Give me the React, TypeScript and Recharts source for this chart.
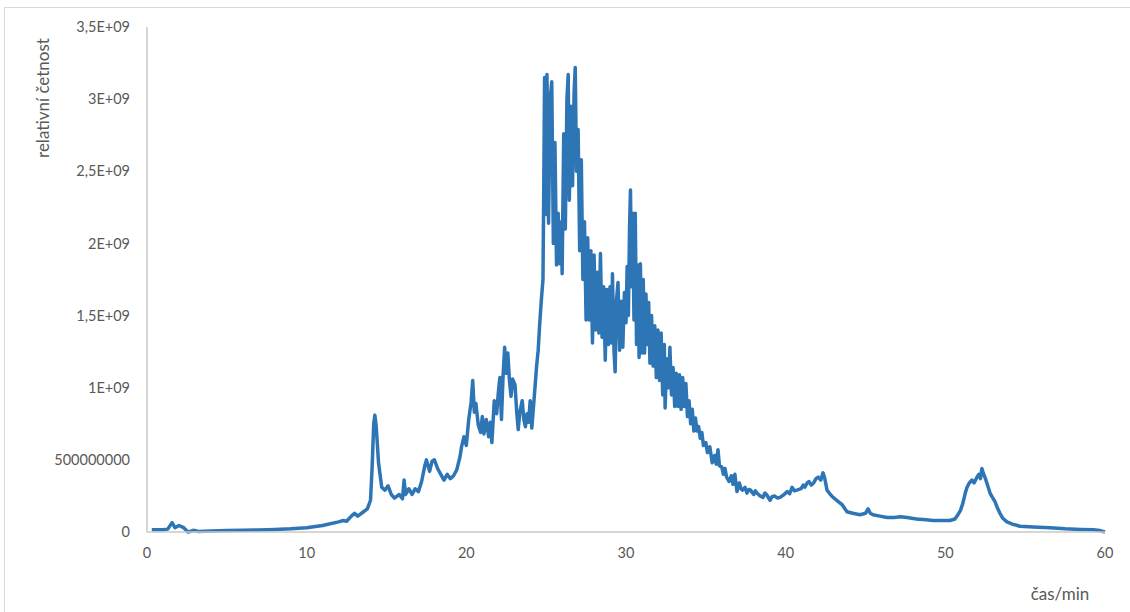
import React from 'react';
import { LineChart, Line, XAxis, YAxis } from 'recharts';

// retention time (min)
const timeMin = [
  0.3, 1.0, 1.3, 1.57, 1.75, 2.0, 2.3, 2.56, 2.75, 2.9,
  3.2, 4, 5, 6, 7, 8, 9, 10, 11, 12,
  12.3, 12.5, 12.8, 13.0, 13.2, 13.5, 13.8, 14.0, 14.1, 14.2,
  14.27, 14.35, 14.5, 14.7, 14.9, 15.1, 15.3, 15.5, 15.8, 16.0,
  16.1, 16.2, 16.4, 16.6, 16.8, 17.0, 17.2, 17.4, 17.5, 17.7,
  17.85, 18.0, 18.2, 18.4, 18.6, 18.8, 19.0, 19.2, 19.4, 19.6,
  19.7, 19.85, 20.0, 20.15, 20.3, 20.4, 20.5, 20.6, 20.75, 20.9,
  21.0, 21.1, 21.25, 21.4, 21.5, 21.6, 21.75, 21.9, 22.0, 22.1,
  22.2, 22.3, 22.4, 22.5, 22.6, 22.7, 22.8, 22.9, 23.05, 23.15,
  23.25, 23.35, 23.5, 23.6, 23.7, 23.8, 23.9, 24.0, 24.1, 24.2,
  24.3, 24.4, 24.5, 24.6, 24.7, 24.8, 24.85, 24.9, 25.0, 25.05,
  25.15, 25.25, 25.35, 25.45, 25.55, 25.65, 25.75, 25.85, 25.95, 26.0,
  26.1, 26.2, 26.3, 26.38, 26.45, 26.55, 26.65, 26.75, 26.82, 26.9,
  27.0, 27.1, 27.2, 27.3, 27.4, 27.5, 27.6, 27.7, 27.8, 27.9,
  28.0, 28.1, 28.2, 28.3, 28.4, 28.5, 28.6, 28.7, 28.8, 28.9,
  29.0, 29.1, 29.15, 29.25, 29.32, 29.4, 29.5, 29.6, 29.7, 29.8,
  29.9, 30.0, 30.07, 30.15, 30.22, 30.28, 30.35, 30.42, 30.5, 30.58,
  30.66, 30.75, 30.82, 30.9, 31.0, 31.08, 31.16, 31.25, 31.33, 31.42,
  31.5, 31.6, 31.7, 31.8, 31.9, 32.0, 32.1, 32.2, 32.3, 32.4,
  32.45, 32.55, 32.65, 32.75, 32.85, 32.95, 33.05, 33.15, 33.25, 33.35,
  33.45, 33.55, 33.65, 33.75, 33.85, 33.95, 34.05, 34.15, 34.25, 34.35,
  34.45, 34.55, 34.65, 34.75, 34.85, 35.0, 35.1, 35.25, 35.4, 35.55,
  35.65, 35.76, 35.85, 36.0, 36.1, 36.2, 36.3, 36.45, 36.6, 36.7,
  36.82, 36.95, 37.1, 37.2, 37.3, 37.45, 37.58, 37.7, 37.8, 38.0,
  38.1, 38.2, 38.4, 38.58, 38.7, 38.8, 39.02, 39.15, 39.3, 39.5,
  39.65, 39.9, 40.1, 40.25, 40.4, 40.55, 40.7, 40.96, 41.1, 41.2,
  41.35, 41.46, 41.6, 41.75, 41.9, 42.03, 42.2, 42.34, 42.45, 42.59,
  42.8, 42.97, 43.2, 43.53, 43.84, 44.2, 44.66, 45.0, 45.16, 45.3,
  45.47, 45.9, 46.35, 46.8, 47.2, 47.6, 48.2, 48.8, 49.23, 49.8,
  50.29, 50.6, 50.79, 50.95, 51.1, 51.25, 51.36, 51.5, 51.67, 51.8,
  51.98, 52.1, 52.2, 52.29, 52.4, 52.48, 52.6, 52.8, 52.95, 53.11,
  53.25, 53.42, 53.6, 53.86, 54.2, 54.68, 55.5, 56.56, 57.5, 58.5,
  59.25, 59.69, 60.0,
];

// relative abundance, in units of 1E+08
const intensityE8 = [
  0.15, 0.15, 0.2, 0.65, 0.3, 0.45, 0.3, 0.0, 0.05, 0.12,
  0.04, 0.07, 0.1, 0.12, 0.14, 0.17, 0.22, 0.3, 0.45, 0.7,
  0.8, 0.75, 1.1, 1.3, 1.1, 1.35, 1.6, 2.2, 4.5, 7.5,
  8.1, 7.4, 4.8, 3.1, 2.9, 3.2, 2.6, 2.35, 2.6, 2.3,
  3.6, 2.6, 3.0, 2.6, 3.0, 2.8, 3.5, 4.6, 5.0, 4.2,
  4.9, 5.0, 4.4, 4.0, 3.6, 4.0, 3.7, 3.9, 4.3, 5.2,
  5.9, 6.6, 6.0, 7.8, 9.0, 10.5, 8.3, 8.9, 7.4, 6.9,
  8.0, 6.8, 7.8, 6.6, 7.6, 6.2, 9.1, 8.2, 9.6, 10.7,
  7.8, 10.8, 12.8, 11.0, 12.4, 10.5, 9.4, 10.6, 10.2, 8.4,
  7.1, 8.3, 9.1, 7.8, 7.3, 8.2, 7.6, 9.1, 7.2, 8.6,
  10.0, 11.5, 12.6, 14.5, 16.1, 17.5, 24.0, 31.5, 22.0, 31.7,
  21.4, 30.0, 31.2, 20.0, 27.0, 18.5, 22.1, 18.6, 21.5, 17.9,
  27.6, 21.0, 30.0, 31.7, 23.0, 29.5, 24.0, 30.5, 32.2, 25.0,
  27.9, 19.5, 25.8, 17.5, 21.5, 14.7, 20.4, 14.7, 19.5, 13.1,
  19.2, 14.0, 18.0, 13.8, 19.3, 13.5, 17.0, 11.9, 16.8, 13.0,
  17.0, 13.1, 17.9, 12.5, 11.1, 16.0, 17.3, 12.6, 16.0, 12.8,
  16.6, 14.5, 18.4, 15.0, 21.0, 23.7, 17.0, 22.1, 14.7, 22.1,
  13.0, 18.5, 12.1, 18.6, 12.4, 17.5, 12.4, 16.5, 13.0, 15.9,
  11.7, 15.0, 11.5, 14.3, 10.7, 14.0, 10.5, 13.8, 9.5, 13.0,
  8.6, 12.0, 10.0, 12.8, 9.5, 11.4, 8.7, 11.0, 8.7, 10.9,
  8.5, 10.7, 8.7, 10.3, 8.0, 9.1, 7.5, 8.5, 7.0, 7.9,
  7.0, 7.3, 6.5, 6.9, 6.0, 6.2, 5.5, 5.9, 4.8, 5.3,
  4.7, 5.7, 4.6, 4.5, 4.0, 4.4, 3.8, 3.5, 3.9, 3.3,
  4.0, 2.8, 3.4, 3.0, 2.9, 3.1, 2.7, 2.95, 2.9, 2.6,
  2.85, 2.7, 2.5, 2.4, 2.7, 2.6, 2.2, 2.45, 2.5, 2.35,
  2.4, 2.6, 2.8, 2.65, 3.1, 2.85, 2.9, 3.0, 3.25, 3.1,
  3.4, 3.5, 3.25, 3.4, 3.7, 3.8, 3.6, 4.1, 3.7, 2.9,
  2.6, 2.4, 2.2, 1.9, 1.4, 1.3, 1.2, 1.3, 1.6, 1.3,
  1.2, 1.1, 1.0, 1.0, 1.05, 1.0, 0.9, 0.85, 0.8, 0.8,
  0.8, 0.9, 1.2, 1.5, 2.0, 2.7, 3.1, 3.4, 3.6, 3.4,
  3.8, 4.0, 3.7, 4.4, 4.0, 3.8, 3.4, 2.7, 2.4, 2.1,
  1.7, 1.3, 0.95, 0.7, 0.55, 0.4, 0.35, 0.3, 0.22, 0.17,
  0.15, 0.1, 0.0,
];

const xTicks = [0, 10, 20, 30, 40, 50, 60];
const yTicks = [0, 5e8, 1e9, 1.5e9, 2e9, 2.5e9, 3e9, 3.5e9];
const yTickLabels = ['0', '500000000', '1E+09', '1,5E+09', '2E+09', '2,5E+09', '3E+09', '3,5E+09'];

const data = timeMin.map((t, i) => ({ t, v: intensityE8[i] * 1e8 }));

const font = 'Lato, "Open Sans", sans-serif';
const tickStyle = { fill: '#595959', fontSize: 14.5, fontFamily: font };
const titleStyle: React.CSSProperties = {
  position: 'absolute',
  whiteSpace: 'nowrap',
  color: '#595959',
  fontSize: 17,
  fontFamily: font,
};

const App = () => {
  return (
    <div style={{ position: 'absolute', left: 0, top: 0, width: 1130, height: 612, background: '#fff', overflow: 'hidden' }}>
      <div
        style={{
          position: 'absolute',
          left: 4,
          top: 7,
          width: 1130,
          height: 620,
          borderLeft: '1px solid #d9d9d9',
          borderTop: '1px solid #d9d9d9',
        }}
      />
      <LineChart
        width={1130}
        height={612}
        data={data}
        margin={{ top: 27, right: 25, bottom: 50, left: 0 }}
        style={{ position: 'absolute', left: 0, top: 0 }}
      >
        <XAxis
          type="number"
          dataKey="t"
          domain={[0, 60]}
          ticks={xTicks}
          height={30}
          tickLine={false}
          tickSize={0}
          tickMargin={16}
          axisLine={{ stroke: '#c8c8c8', strokeWidth: 1.5 }}
          tick={tickStyle}
        />
        <YAxis
          type="number"
          domain={[0, 3.5e9]}
          ticks={yTicks}
          width={147}
          tickLine={false}
          tickSize={0}
          tickMargin={17}
          axisLine={{ stroke: '#c8c8c8', strokeWidth: 1.5 }}
          tick={tickStyle}
          tickFormatter={(v: number) => yTickLabels[yTicks.indexOf(v)] ?? String(v)}
          interval={0}
        />
        <Line
          type="linear"
          dataKey="v"
          stroke="#2e75b6"
          strokeWidth={3.5}
          dot={false}
          isAnimationActive={false}
          strokeLinejoin="round"
        />
      </LineChart>
      <div style={{ ...titleStyle, left: 42, top: 98, transform: 'translate(-50%, -50%) rotate(-90deg)' }}>
        relativní četnost
      </div>
      <div style={{ ...titleStyle, left: 1060, top: 593, transform: 'translate(-50%, -50%)' }}>
        čas/min
      </div>
    </div>
  );
};

export default App;
